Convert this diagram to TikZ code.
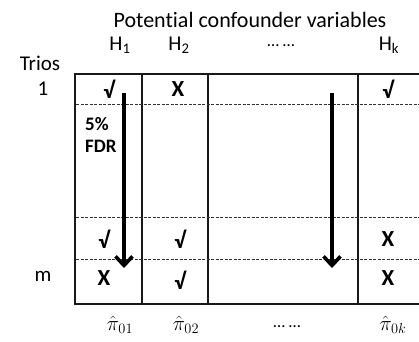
\documentclass[tikz,border=0pt]{standalone}
\usepackage{fontspec}
\setmainfont{Carlito}[Ligatures={NoCommon}]
\usetikzlibrary{arrows.meta}
\begin{document}
\begin{tikzpicture}[x=1pt,y=-1pt,
  hdr/.style={font=\fontsize{21}{21}\selectfont, inner sep=0pt},
  cellmark/.style={font=\bfseries\fontsize{23}{23}\selectfont, inner sep=0pt},
  fdrtext/.style={font=\bfseries\fontsize{19}{19}\selectfont, inner sep=0pt, anchor=west},
  grid/.style={line width=1.7pt, black!90},
  dashline/.style={line width=0.8pt, dash pattern=on 3pt off 1.5pt, black!80},
  bigarrow/.style={line width=3.6pt, -{Straight Barb[length=9pt,width=17pt,line width=3.6pt]}}
]
\useasboundingbox (0,0) rectangle (419,341);
% title and headers
\node[hdr, font=\fontsize{22}{22}\selectfont] (title) at (250,20) {Potential confounder variables};
\node[hdr] (h1) at (120,45) {H\textsubscript{1}};
\node[hdr] (h2) at (179,45) {H\textsubscript{2}};
\node[hdr] (hd) at (281,46) {\fontsize{17}{17}\selectfont … …};
\node[hdr] (hk) at (389,45) {H\textsubscript{k}};
\node[hdr] (trios) at (40,63) {Trios};
\node[hdr] (r1) at (43,89) {1};
\node[hdr] (rm) at (43,276) {m};
% table
\draw[grid] (421,74) -- (75,74) -- (75,304) -- (421,304);
\draw[grid] (142,74) -- (142,304);
\draw[grid] (208,74) -- (208,304);
\draw[grid] (358,74) -- (358,304);
\draw[dashline] (76,104) -- (419,104);
\draw[dashline] (76,217) -- (419,217);
\draw[dashline] (76,259) -- (419,259);
% cell marks
\node[cellmark] (c11) at (109,89) {√};
\node[cellmark] (c12) at (178,89) {X};
\node[cellmark] (c1k) at (388,89) {√};
\node[fdrtext] (p5) at (85,124) {5\%};
\node[fdrtext] (fdr) at (85,146) {FDR};
\node[cellmark] (c31) at (104,239) {√};
\node[cellmark] (c32) at (180,239) {√};
\node[cellmark] (c3k) at (388,239) {X};
\node[cellmark] (c41) at (104,278) {X};
\node[cellmark] (c42) at (180,280) {√};
\node[cellmark] (c4k) at (388,278) {X};
% arrows
\coordinate (a1s) at (124,93);
\coordinate (a1e) at (124,268);
\coordinate (a2s) at (332,93);
\coordinate (a2e) at (332,268);
\draw[bigarrow] (a1s) -- (a1e);
\draw[bigarrow] (a2s) -- (a2e);
% bottom labels
\node[hdr, font=\fontsize{22}{22}\selectfont] (pi1) at (120,325) {$\hat{\pi}_{01}$};
\node[hdr, font=\fontsize{22}{22}\selectfont] (pi2) at (186,325) {$\hat{\pi}_{02}$};
\node[hdr] (pid) at (287,327) {\fontsize{17}{17}\selectfont … …};
\node[hdr, font=\fontsize{22}{22}\selectfont] (pik) at (393,325) {$\hat{\pi}_{0k}$};
\end{tikzpicture}
\end{document}
